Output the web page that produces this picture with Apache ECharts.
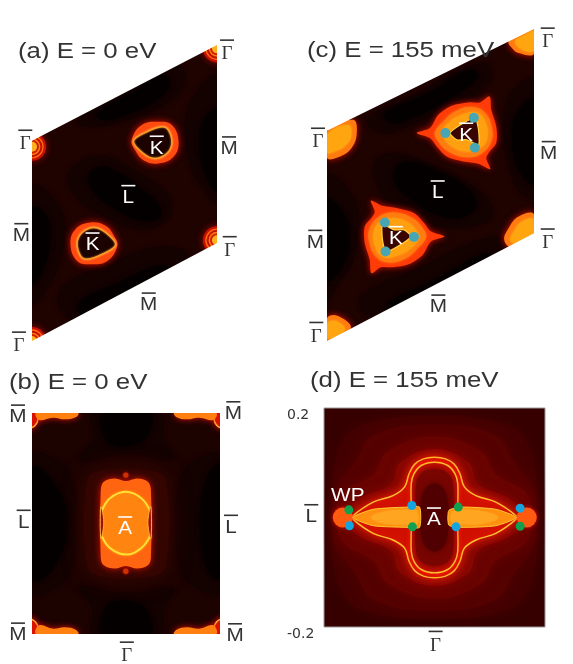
<!DOCTYPE html>
<html>
<head>
<meta charset="utf-8">
<style>html,body{margin:0;background:#fff}#chart{width:573px;height:664px}</style>
<script src="https://cdn.jsdelivr.net/npm/echarts@6/dist/echarts.min.js"></script>
</head>
<body>
<div id="chart"></div>
<script>
// panel outlines, in each panel's own k-scale
const aOutline = [[[97, 75], [650, 75], [97, 362]], [[650, 962], [97, 962], [650, 668]]];
const cOutline = [[[97, 28], [716, 28], [97, 333]], [[716, 963], [97, 963], [716, 640]]];

// panel a, contours
const aDimOuter = [
  [[205, 470], [250, 420], [320, 410], [400, 450], [500, 520], [510, 580], [470, 620], [400, 625], [320, 590], [240, 540]],
  [[650, 170], [580, 230], [555, 320], [570, 430], [590, 480], [650, 540]],
  [[97, 500], [165, 540], [195, 620], [180, 720], [150, 790], [97, 850]],
  [[230, 300], [270, 320], [380, 300], [500, 250], [555, 180], [520, 130], [400, 170]],
  [[190, 800], [330, 730], [480, 680], [560, 700], [520, 770], [380, 860], [230, 900], [180, 860]]
];
const aDimCore = [
  [[265, 470], [300, 440], [350, 455], [430, 510], [480, 560], [475, 595], [420, 600], [350, 570], [285, 520]],
  [[650, 270], [610, 300], [597, 370], [610, 450], [650, 510]],
  [[97, 565], [140, 585], [152, 650], [130, 750], [97, 790]],
  [[290, 280], [400, 215], [490, 165], [510, 190], [470, 240], [380, 285], [310, 300]],
  [[235, 850], [350, 790], [480, 735], [515, 755], [470, 800], [350, 860], [260, 890]]
];
const aPocketOuter = [
  [[395, 360], [425, 315], [475, 305], [515, 315], [535, 365], [520, 410], [475, 430], [430, 420], [405, 390]],
  [[352, 677], [322, 722], [272, 732], [232, 722], [212, 672], [227, 627], [272, 607], [317, 617], [342, 647]]
];
const aPocketInner = [
  [[400, 363], [440, 335], [485, 320], [505, 330], [515, 370], [500, 400], [465, 415], [430, 400]],
  [[347, 674], [307, 702], [262, 717], [242, 707], [232, 667], [247, 637], [282, 622], [317, 637]]
];
const aGamma = [[650, 85], [97, 380], [650, 660], [97, 962]];

// panel c, contours
const cDimOuter = [
  [[240, 430], [290, 400], [370, 420], [480, 470], [570, 530], [590, 590], [530, 620], [440, 620], [340, 580], [260, 520]],
  [[716, 180], [650, 220], [625, 320], [640, 430], [670, 510], [716, 530]],
  [[97, 470], [160, 510], [190, 600], [170, 730], [130, 790], [97, 840]],
  [[220, 300], [350, 230], [560, 130], [590, 170], [500, 250], [360, 310], [270, 340]],
  [[200, 830], [360, 750], [600, 650], [620, 700], [470, 800], [290, 890], [210, 880]]
];
const cDimCore = [
  [[300, 450], [340, 425], [420, 450], [510, 500], [545, 550], [510, 590], [440, 590], [350, 540], [300, 490]],
  [[716, 240], [665, 280], [650, 350], [670, 450], [716, 490]],
  [[97, 540], [140, 570], [165, 640], [150, 730], [97, 780]],
  [[270, 280], [400, 220], [520, 150], [550, 170], [460, 240], [340, 300], [290, 310]],
  [[280, 850], [420, 780], [570, 700], [590, 725], [440, 810], [300, 880]]
];
const cPocketOuter = [
  [[365, 340], [405, 325], [430, 285], [470, 258], [520, 248], [555, 248], [583, 230], [588, 270], [603, 320], [603, 370], [580, 400], [573, 415], [585, 448], [550, 432], [505, 425], [455, 410], [425, 380], [405, 355]],
  [[448, 650], [408, 665], [383, 705], [343, 732], [293, 742], [258, 742], [230, 760], [225, 720], [210, 670], [210, 620], [233, 590], [240, 575], [228, 542], [263, 558], [308, 565], [358, 580], [388, 610], [408, 635]]
];
const cPocketMid = [
  [[420, 338], [445, 305], [480, 275], [530, 262], [570, 280], [590, 325], [588, 365], [560, 400], [515, 412], [460, 395], [430, 365]],
  [[393, 652], [368, 685], [333, 715], [283, 728], [243, 710], [223, 665], [225, 625], [253, 590], [298, 578], [353, 595], [383, 625]]
];
const cPocketCore = [
  [[440, 338], [465, 305], [500, 285], [545, 278], [572, 310], [575, 360], [550, 388], [510, 395], [470, 380], [450, 360]],
  [[373, 652], [348, 685], [313, 705], [268, 712], [241, 680], [238, 630], [263, 602], [303, 595], [343, 610], [363, 630]]
];
const cPocketInner = [
  [[465, 340], [505, 310], [540, 295], [550, 330], [550, 375], [515, 360], [485, 360]],
  [[348, 650], [308, 680], [273, 695], [263, 660], [263, 615], [298, 630], [328, 630]]
];
const cGammaRim = [
  [[640, 65], [680, 38], [716, 28], [716, 102], [670, 100], [650, 85]],
  [[97, 335], [175, 300], [186, 340], [170, 385], [130, 412], [97, 414]],
  [[716, 583], [670, 590], [640, 625], [627, 660], [650, 682], [716, 650]],
  [[97, 895], [130, 888], [168, 925], [97, 963]]
];
const cGammaCore = [
  [[660, 65], [690, 45], [716, 35], [716, 92], [680, 90]],
  [[97, 345], [160, 315], [170, 345], [155, 375], [120, 395], [97, 398]],
  [[716, 598], [680, 605], [655, 635], [645, 660], [660, 670], [716, 640]],
  [[97, 910], [125, 903], [150, 930], [97, 955]]
];
const cDotsTeal = [[536, 294], [451, 340], [539, 384], [270, 608], [357, 651], [272, 695]];

// panel b, contours
const bDimOuter = [
  [[280, 144], [480, 144], [490, 220], [520, 280], [380, 265], [240, 285], [280, 220]],
  [[280, 806], [480, 806], [490, 730], [520, 670], [380, 685], [240, 665], [280, 730]],
  [[97, 275], [170, 285], [215, 340], [230, 470], [215, 610], [170, 665], [97, 680]],
  [[660, 275], [587, 285], [542, 340], [527, 470], [542, 610], [587, 665], [660, 680]]
];
const bDimCore = [
  [[310, 144], [450, 144], [445, 210], [400, 240], [340, 240], [310, 210]],
  [[310, 806], [450, 806], [445, 740], [400, 710], [340, 710], [310, 740]],
  [[97, 310], [160, 350], [205, 470], [160, 610], [97, 640]],
  [[660, 300], [620, 340], [600, 470], [620, 610], [660, 640]]
];
const bHalo = [[262, 350], [300, 318], [460, 318], [498, 350], [498, 600], [460, 632], [300, 632], [262, 600]];
const bBlob = [[303, 375], [312, 350], [345, 340], [378, 348], [412, 340], [444, 350], [453, 375], [453, 578], [444, 600], [412, 610], [378, 602], [345, 610], [312, 600], [303, 578]];
const bLensArcs = [
  [[305, 440], [330, 400], [378, 380], [425, 400], [452, 440]],
  [[305, 510], [330, 548], [378, 568], [425, 548], [452, 510]]
];
const bLensFill = [[310, 440], [335, 405], [378, 385], [420, 405], [447, 440], [447, 510], [420, 545], [378, 563], [335, 545], [310, 510]];
const bSlits = [
  [[303, 425], [312, 472], [303, 520]],
  [[453, 425], [444, 472], [453, 520]]
];
const bBands = [
  [[110, 144], [235, 144], [228, 157], [195, 163], [160, 158], [118, 165]],
  [[523, 144], [648, 144], [640, 165], [598, 158], [560, 163], [530, 157]],
  [[110, 806], [235, 806], [228, 793], [195, 786], [160, 790], [118, 780]],
  [[523, 806], [648, 806], [640, 780], [598, 790], [560, 786], [530, 793]]
];
const bCorners = [[85, 160], [672, 160], [85, 790], [672, 790]];
const bSpots = [[378, 330], [378, 618]];

// panel d, contours (k in 0.001 units)
const dBand1 = [[-130, 170], [0, 185], [130, 170], [170, 130], [185, 60], [185, -60], [170, -130], [130, -170], [0, -185], [-130, -170], [-170, -130], [-185, -60], [-185, 60], [-170, 130]];
const dBand2 = [[-110, 150], [0, 170], [110, 150], [145, 100], [180, 50], [182, 0], [180, -50], [145, -100], [110, -150], [0, -170], [-110, -150], [-145, -100], [-180, -50], [-182, 0], [-180, 50], [-145, 100]];
const dBand3 = [[-85, 120], [0, 148], [85, 120], [110, 80], [165, 45], [178, 0], [165, -45], [110, -80], [85, -120], [0, -148], [-85, -120], [-110, -80], [-165, -45], [-178, 0], [-165, 45], [-110, 80]];
const dBand4 = [[-62, 100], [0, 125], [62, 100], [78, 62], [140, 32], [165, 0], [140, -32], [78, -62], [62, -100], [0, -125], [-62, -100], [-78, -62], [-140, -32], [-165, 0], [-140, 32], [-78, 62]];
const dOuterLoop = [[-148, 3], [-111, 28], [-75, 40], [-54, 56], [-46, 80], [-36, 97], [-20, 107], [0, 110], [20, 107], [36, 97], [46, 80], [54, 56], [75, 40], [111, 28], [148, 3], [148, -3], [111, -29], [75, -41], [54, -56], [46, -80], [36, -97], [20, -107], [0, -110], [-20, -107], [-36, -97], [-46, -80], [-54, -56], [-75, -41], [-111, -29], [-148, -3]];
const dInnerLoop = [[-42, 22], [-42, 62], [-37, 80], [-24, 95], [0, 101], [24, 95], [37, 80], [42, 62], [42, 22], [42, -22], [42, -62], [37, -80], [24, -95], [0, -101], [-24, -95], [-37, -80], [-42, -62], [-42, -22]];
const dInnerMid = [[-34, 50], [-26, 78], [0, 88], [26, 78], [34, 50], [34, -50], [26, -78], [0, -88], [-26, -78], [-34, -50]];
const dInnerCore = [[-22, 40], [0, 62], [22, 40], [22, -40], [0, -62], [-22, -40]];
const dLenses = [
  [[-148, 0], [-111, 15], [-50, 19], [-27, 19], [-27, -18], [-50, -18], [-111, -15]],
  [[26, 13], [50, 19], [111, 15], [148, 0], [111, -15], [50, -18], [26, -14]]
];
const dLensCores = [
  [[-115, 0], [-90, 11], [-50, 14], [-32, 12], [-32, -12], [-50, -13], [-90, -11]],
  [[32, 10], [50, 14], [90, 11], [115, 0], [90, -11], [50, -13], [32, -10]]
];
const dTips = [[-166, 0], [167, 0]];
const dDotsBlue = [[-41, 22], [-154, -15], [39, -17], [155, 17]];
const dDotsGreen = [[-155, 14], [-40, -17], [43, 19], [155, -16]];

// tick labels and point names
const dTicks = [-200, 200];
const aLabels = [['Γ', 680, 103, 0], ['Γ', 77, 373, 0], ['M', 686, 387, 0], ['K', 470, 385, 1], ['L', 385, 533, 1], ['M', 65, 647, 0], ['K', 278, 675, 1], ['Γ', 688, 692, 0], ['M', 446, 855, 0], ['Γ', 58, 978, 0]];
const cLabels = [['Γ', 757, 68, 0], ['Γ', 70, 368, 0], ['M', 760, 402, 0], ['K', 513, 347, 1], ['L', 428, 520, 1], ['K', 303, 657, 1], ['M', 62, 668, 0], ['Γ', 757, 670, 0], ['M', 430, 862, 0], ['Γ', 65, 950, 0]];
const bLabels = [['M', 55, 157, 0], ['M', 700, 147, 0], ['L', 72, 472, 0], ['L', 693, 487, 0], ['A', 376, 492, 1], ['M', 55, 810, 0], ['M', 705, 812, 0], ['Γ', 381, 873, 0]];
const dLabels = [['L', -223, 1, 0], ['A', -1, -5, 1], ['Γ', 2, -234, 0], ['WP', -157, 39, 1]];

const titles = ['(a) E = 0 eV', '(c) E = 155 meV', '(b) E = 0 eV', '(d) E = 155 meV'];

const series = [];

function polys(g, list, style, smooth, type) {
  series.push({
    type: 'custom',
    xAxisIndex: g,
    yAxisIndex: g,
    clip: true,
    silent: true,
    data: list.map((p, i) => [p[0][0], p[0][1], i]),
    renderItem: (params, api) => ({
      type: type || 'polygon',
      shape: { points: list[params.dataIndex].map((p) => api.coord(p)), smooth: smooth === undefined ? 0.42 : smooth },
      style: style
    })
  });
}

function discs(g, list, r, style) {
  series.push({
    type: 'custom',
    xAxisIndex: g,
    yAxisIndex: g,
    clip: true,
    silent: true,
    data: list,
    renderItem: (params, api) => {
      const c = api.coord([api.value(0), api.value(1)]);
      return { type: 'circle', shape: { cx: c[0], cy: c[1], r: api.size([r, 0])[0] }, style: style };
    }
  });
}

function names(g, list) {
  series.push({
    type: 'custom',
    xAxisIndex: g,
    yAxisIndex: g,
    silent: true,
    z: 10,
    data: list.map((l) => [l[1], l[2]]),
    renderItem: (params, api) => {
      const l = list[params.dataIndex];
      const c = api.coord([l[1], l[2]]);
      const col = l[3] ? '#fff' : '#333';
      const gamma = l[0] === 'Γ';
      const children = [{
        type: 'text',
        x: c[0],
        y: c[1],
        scaleX: gamma ? 1 : 1.12,
        style: {
          text: l[0], x: 0, y: 0, fill: col, align: 'center', verticalAlign: 'middle',
          font: gamma ? '19px "Liberation Serif"' : '18.5px "Liberation Sans"'
        }
      }];
      if (l[0] !== 'WP') {
        children.push({
          type: 'rect',
          shape: { x: c[0] - 7, y: c[1] - (gamma ? 15 : 13), width: 14, height: 1.6 },
          style: { fill: col }
        });
      }
      return { type: 'group', children: children };
    }
  });
}

function gammaRings(g, list) {
  discs(g, list, 42, { fill: '#c81000', shadowBlur: 7, shadowColor: '#a00c00' });
  discs(g, list, 35, { fill: '#ff6a10' });
  discs(g, list, 31, { fill: '#c01000' });
  discs(g, list, 25, { fill: '#ff8010' });
  discs(g, list, 21, { fill: '#d02000' });
  discs(g, list, 15, { fill: '#ffb020' });
}

const dim = { fill: '#130200', shadowBlur: 4, shadowColor: '#130200' };
const core = { fill: '#050000', shadowBlur: 5, shadowColor: '#080000' };

// a
polys(0, aDimOuter, dim);
polys(0, aDimCore, core);
polys(0, aPocketOuter, { fill: '#ff4a10', shadowBlur: 7, shadowColor: '#e01000' });
polys(0, aPocketInner, { fill: '#1c0200', stroke: '#ff9a28', lineWidth: 1.4, shadowBlur: 2, shadowColor: '#ffb040' }, 0.35);
gammaRings(0, aGamma);
polys(0, aOutline, { fill: '#fff' }, 0);

// c
polys(1, cDimOuter, dim);
polys(1, cDimCore, core);
polys(1, cGammaRim, { fill: '#ff7a10', shadowBlur: 7, shadowColor: '#e01000' });
polys(1, cGammaCore, { fill: '#ffa510', shadowBlur: 3, shadowColor: '#ffa510' });
polys(1, cPocketOuter, { fill: '#ff3c08', shadowBlur: 6, shadowColor: '#e01000' }, 0.3);
polys(1, cPocketMid, { fill: '#ff7c10', shadowBlur: 3, shadowColor: '#ff7c10' });
polys(1, cPocketCore, { fill: '#ffa010', shadowBlur: 3, shadowColor: '#ffa010' });
polys(1, cPocketInner, { fill: '#3a0400', stroke: '#ffd040', lineWidth: 1.2 }, 0.2);
polys(1, cOutline, { fill: '#fff' }, 0);

// b
polys(2, bDimOuter, dim);
polys(2, bDimCore, core);
polys(2, [bHalo], { fill: '#340500', shadowBlur: 22, shadowColor: '#3a0500' });
polys(2, [bBlob], { fill: '#ff6410', shadowBlur: 7, shadowColor: '#e01000' }, 0.35);
polys(2, [bLensFill], { fill: '#ff8410', shadowBlur: 3, shadowColor: '#ff8410' });
polys(2, bLensArcs, { fill: 'none', stroke: '#ffe030', lineWidth: 2, shadowBlur: 3, shadowColor: '#ffa020' }, 0.42, 'polyline');
polys(2, bSlits, { fill: '#a01000', stroke: '#ffb040', lineWidth: 1 }, 0.4);
discs(2, bCorners, 30, { fill: '#d81400', stroke: '#ffb030', lineWidth: 1.5, shadowBlur: 6, shadowColor: '#e01000' });
polys(2, bBands, { fill: '#ff8010', shadowBlur: 6, shadowColor: '#e01000' });
discs(2, bSpots, 8, { fill: '#d03000', shadowBlur: 3, shadowColor: '#e01000' });

// d
const soft = (c, b) => ({ fill: c, shadowBlur: b, shadowColor: c });
polys(3, [dBand1], soft('#440000', 14));
polys(3, [dBand2], soft('#540100', 14));
polys(3, [dBand3], soft('#680300', 12));
polys(3, [dBand4], soft('#880700', 10));
polys(3, [dOuterLoop], { fill: '#d01000', stroke: '#ffc030', lineWidth: 1.5, shadowBlur: 8, shadowColor: '#ff2000' }, 0.38);
polys(3, [dInnerLoop], { fill: '#b00c00', stroke: '#ffc030', lineWidth: 1.5, shadowBlur: 5, shadowColor: '#ff2000' }, 0.38);
polys(3, [dInnerMid], soft('#780500', 6));
polys(3, [dInnerCore], soft('#500000', 7));
discs(3, dTips, 18, { fill: '#ff5a10', shadowBlur: 4, shadowColor: '#e01000' });
polys(3, dLenses, { fill: '#ff9010', stroke: '#ffc830', lineWidth: 1 }, 0.2);
polys(3, dLensCores, soft('#ffa520', 2));

const dots = (g, data, color, size) => series.push({
  type: 'scatter', xAxisIndex: g, yAxisIndex: g, silent: true, z: 8, data: data,
  symbolSize: size, itemStyle: { color: color, opacity: 1 }
});
dots(1, cDotsTeal, '#47a6b4', 10);
dots(3, dDotsBlue, '#14a5e0', 9);
dots(3, dDotsGreen, '#0fa050', 9);

names(0, aLabels);
names(1, cLabels);
names(2, bLabels);
names(3, dLabels);

const grids = [
  { left: 32, top: 45, width: 185, height: 296, backgroundColor: '#1e0300' },
  { left: 327, top: 29, width: 207, height: 312, backgroundColor: '#1e0300' },
  { left: 32, top: 413, width: 188, height: 221, backgroundColor: '#1c0300' },
  { left: 324, top: 408, width: 221, height: 219, backgroundColor: '#360000', borderColor: '#999', borderWidth: 1 }
].map((g) => Object.assign({ show: true, borderWidth: 0 }, g));

const hidden = (min, max, inverse) => ({ type: 'value', show: false, min: min, max: max, inverse: !!inverse, splitLine: { show: false } });

const titleAt = [[18, 52], [307, 51], [9, 383], [310, 381]];

echarts.init(document.getElementById('chart')).setOption({
  animation: false,
  backgroundColor: '#fff',
  graphic: titles.map((t, i) => ({
    type: 'text', x: titleAt[i][0], y: titleAt[i][1], scaleX: 1.2, z: 100, silent: true,
    style: { text: t, font: '21.5px "Liberation Sans"', fill: '#333', verticalAlign: 'middle' }
  })),
  grid: grids,
  xAxis: [
    Object.assign(hidden(97, 650), { gridIndex: 0 }),
    Object.assign(hidden(97, 716), { gridIndex: 1 }),
    Object.assign(hidden(97, 660), { gridIndex: 2 }),
    Object.assign(hidden(dTicks[0], dTicks[1]), { gridIndex: 3 })
  ],
  yAxis: [
    Object.assign(hidden(75, 962, true), { gridIndex: 0 }),
    Object.assign(hidden(28, 963, true), { gridIndex: 1 }),
    Object.assign(hidden(144, 806, true), { gridIndex: 2 }),
    {
      gridIndex: 3, type: 'value', min: dTicks[0], max: dTicks[1], interval: 400,
      axisLine: { show: false }, axisTick: { show: false }, splitLine: { show: false },
      axisLabel: {
        align: 'left', margin: 37, verticalAlign: 'top', color: '#333', fontSize: 14,
        fontFamily: 'DejaVu Sans', formatter: (v) => String(v / 1000)
      }
    }
  ],
  series: series
});
</script>
</body>
</html>
